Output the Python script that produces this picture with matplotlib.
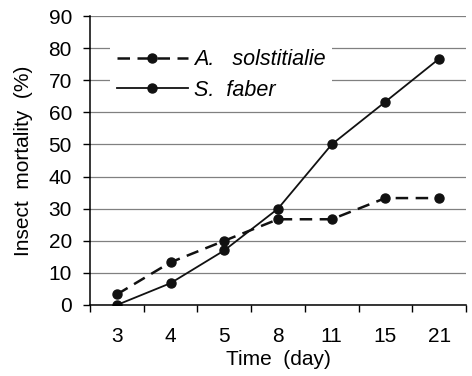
import matplotlib
matplotlib.use('Agg')
import matplotlib.pyplot as plt

days = ['3', '4', '5', '8', '11', '15', '21']
a_solst = [3.3, 13.3, 20.0, 26.7, 26.7, 33.3, 33.3]
s_faber = [0.0, 6.8, 17.0, 30.0, 50.0, 63.3, 76.7]

plt.rcParams['font.family'] = ['Liberation Sans', 'DejaVu Sans']

fig = plt.figure(figsize=(4.72, 3.76), dpi=100)
ax = fig.add_axes([90 / 472, 1 - 305 / 376, 376 / 472, 289 / 376])

x = list(range(len(days)))
ax.plot(x, a_solst, color='#111111', linestyle=(0, (5, 3)), linewidth=1.8,
        marker='o', markersize=6.5, label='A.   solstitialie')
ax.plot(x, s_faber, color='#111111', linestyle='-', linewidth=1.3,
        marker='o', markersize=6.5, label='S.  faber')

ax.set_xlim(-0.5, len(days) - 0.5)
ax.set_ylim(0, 90)
ax.set_yticks(range(0, 91, 10))
ax.set_xticks(x)
ax.set_xticklabels(days)
ax.set_xticks([i - 0.5 for i in range(len(days) + 1)], minor=True)
ax.tick_params(axis='x', which='major', length=0, pad=16, labelsize=15)
ax.tick_params(axis='x', which='minor', length=5, direction='out', width=1)
ax.tick_params(axis='y', length=5, direction='out', width=1, labelsize=15, pad=8)
ax.yaxis.grid(True, color='#808080', linewidth=0.9)
ax.set_axisbelow(True)
for s in ['top', 'right']:
    ax.spines[s].set_visible(False)
for s in ['left', 'bottom']:
    ax.spines[s].set_linewidth(1.1)

ax.set_xlabel('Time  (day)', fontsize=15, labelpad=3)
ax.set_ylabel('Insect  mortality  (%)', fontsize=15, labelpad=11)

leg = ax.legend(loc='upper left', bbox_to_anchor=(0.025, 0.945), frameon=True,
                handlelength=3.3, handletextpad=0.3, borderpad=0.3,
                labelspacing=0.45, prop={'style': 'italic', 'size': 15.5})
leg.get_frame().set_edgecolor('none')
leg.get_frame().set_facecolor('white')
leg.get_frame().set_alpha(1.0)

fig.savefig('out.png', dpi=100, facecolor='white')
